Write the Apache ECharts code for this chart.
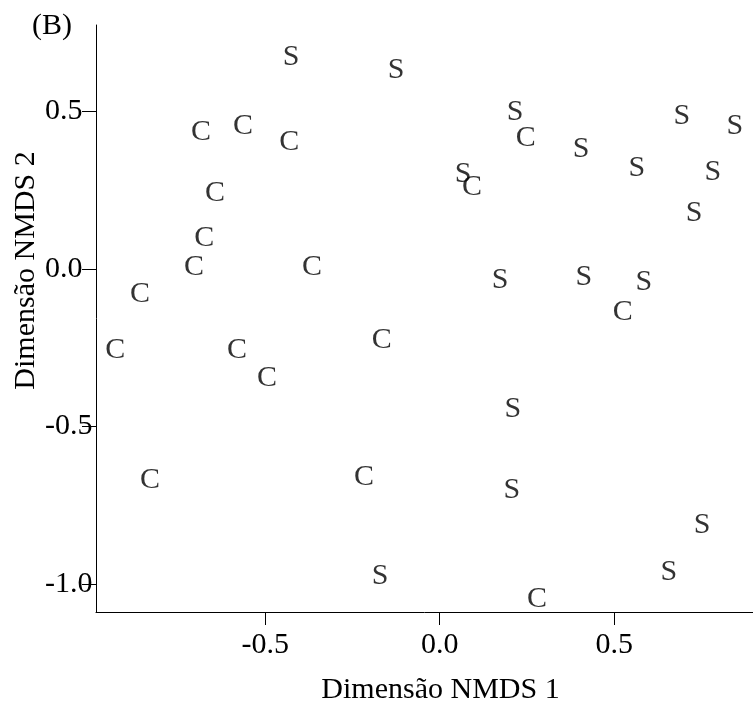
<!DOCTYPE html>
<html>
<head>
<meta charset="utf-8">
<script src="https://cdn.jsdelivr.net/npm/echarts@6/dist/echarts.min.js"></script>
<style>
    html, body {margin: 0; padding: 0; background: #fff;}
    #nmds-chart {width: 753px; height: 706px;}
</style>
</head>
<body>
<div id="nmds-chart"></div>
<script>
// pontos C
var cX = [-0.684, -0.564, -0.431, -0.644, -0.675, -0.704, -0.366, -0.859, -0.930,
    -0.581, -0.495, -0.830, -0.166, -0.217, 0.247, 0.093, 0.525, 0.279];
var cY = [0.435, 0.454, 0.403, 0.241, 0.098, 0.006, 0.006, -0.079, -0.257,
    -0.257, -0.346, -0.670, -0.225, -0.660, 0.416, 0.260, -0.137, -1.048];
// pontos S
var sX = [-0.426, -0.125, 0.216, 0.067, 0.405, 0.694, 0.846, 0.565, 0.783,
    0.729, 0.173, 0.413, 0.585, 0.210, 0.207, 0.752, 0.657, -0.171];
var sY = [0.673, 0.632, 0.498, 0.302, 0.381, 0.486, 0.454, 0.321, 0.308,
    0.178, -0.035, -0.025, -0.041, -0.444, -0.702, -0.813, -0.962, -0.975];

var xTicks = [-0.5, 0.0, 0.5];
var yTicks = [-1.0, -0.5, 0.0, 0.5];

var fontName = '"Liberation Serif", "Times New Roman", serif';

function zip(xs, ys) {
    var data = [];
    for (var i = 0; i < xs.length; i++) {
        data.push([xs[i], ys[i]]);
    }
    return data;
}

function letterSeries(name, xs, ys) {
    return {
        name: name,
        type: 'scatter',
        symbol: 'circle',
        symbolSize: 0,
        itemStyle: {color: '#000'},
        label: {
            show: true,
            position: 'inside',
            color: '#000',
            fontFamily: fontName,
            fontSize: 30,
            formatter: function () {
                return name;
            }
        },
        data: zip(xs, ys)
    };
}

var myChart = echarts.init(document.getElementById('nmds-chart'));

var option = {
    backgroundColor: '#fff',
    animation: false,
    title: {
        text: '(B)',
        left: 32,
        top: 11,
        padding: 0,
        textStyle: {
            color: '#000',
            fontFamily: fontName,
            fontSize: 30,
            fontWeight: 'normal'
        }
    },
    grid: {
        left: 96,
        top: 25,
        right: 0,
        bottom: 94,
        outerBoundsMode: 'none',
        containLabel: false
    },
    xAxis: {
        type: 'value',
        min: -0.985,
        max: 0.898,
        name: 'Dimensão NMDS 1',
        nameLocation: 'middle',
        nameGap: 63,
        nameMoveOverlap: false,
        nameTextStyle: {
            color: '#000',
            fontFamily: fontName,
            fontSize: 30,
            padding: [0, 0, 0, 32]
        },
        splitLine: {show: false},
        axisLine: {onZero: false, lineStyle: {color: '#000', width: 1}},
        axisTick: {
            length: 13,
            lineStyle: {color: '#000'},
            customValues: xTicks
        },
        axisLabel: {
            color: '#000',
            fontFamily: fontName,
            fontSize: 30,
            margin: 18,
            customValues: xTicks,
            formatter: function (v) {
                return v.toFixed(1);
            }
        }
    },
    yAxis: {
        type: 'value',
        min: -1.089,
        max: 0.775,
        name: 'Dimensão NMDS 2',
        nameLocation: 'middle',
        nameGap: 55,
        nameMoveOverlap: false,
        nameTextStyle: {
            color: '#000',
            fontFamily: fontName,
            fontSize: 30,
            padding: [0, 0, 0, 96]
        },
        splitLine: {show: false},
        axisLine: {onZero: false, lineStyle: {color: '#000', width: 1}},
        axisTick: {
            length: 14,
            lineStyle: {color: '#000'},
            customValues: yTicks
        },
        axisLabel: {
            color: '#000',
            fontFamily: fontName,
            fontSize: 30,
            margin: 51,
            align: 'left',
            padding: [0, 0, 12, 0],
            customValues: yTicks,
            formatter: function (v) {
                return v.toFixed(1);
            }
        }
    },
    series: [
        letterSeries('C', cX, cY),
        letterSeries('S', sX, sY)
    ]
};

myChart.setOption(option);
</script>
</body>
</html>
